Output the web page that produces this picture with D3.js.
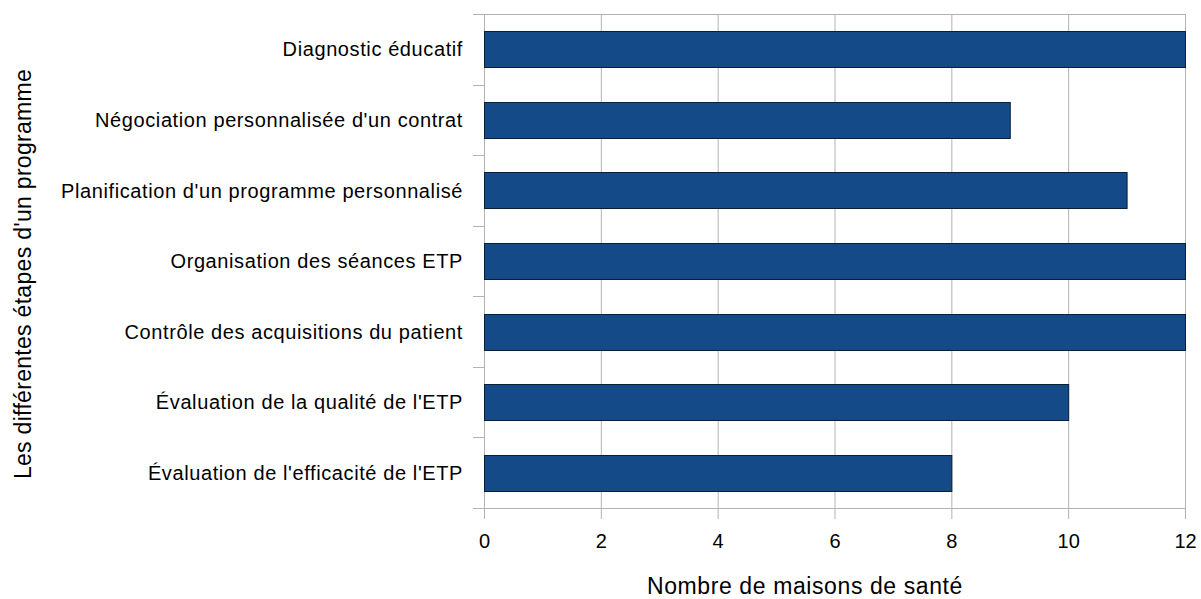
<!DOCTYPE html>
<html>
<head>
<meta charset="utf-8">
<script src="https://cdn.jsdelivr.net/npm/d3@7"></script>
<style>
  body { margin: 0; background: #fff; }
  text { font-family: "Liberation Sans", Arial, sans-serif; fill: #000; }
</style>
</head>
<body>
<svg id="chart" width="1201" height="599"></svg>
<script>
// categories, top to bottom
var etapes = [
	"Diagnostic éducatif",
	"Négociation personnalisée d'un contrat",
	"Planification d'un programme personnalisé",
	"Organisation des séances ETP",
	"Contrôle des acquisitions du patient",
	"Évaluation de la qualité de l'ETP",
	"Évaluation de l'efficacité de l'ETP"
];
var maisons = [12, 9, 11, 12, 12, 10, 8];
var xTicks = [0, 2, 4, 6, 8, 10, 12];

var plotLeft = 484, plotRight = 1185, plotTop = 14, plotBottom = 508;
var gridColor = "#b3b3b3";

var svg = d3.select("#chart");

var x = d3.scaleLinear().domain([0, 12]).range([plotLeft, plotRight]);
var y = d3.scaleBand().domain(etapes).range([plotTop, plotBottom]).paddingInner(0.49).paddingOuter(0.245);

// vertical grid lines
svg.append("g").selectAll("line").data(xTicks).enter().append("line")
	.attr("x1", function (d) { return x(d) + 0.5; })
	.attr("x2", function (d) { return x(d) + 0.5; })
	.attr("y1", plotTop)
	.attr("y2", plotBottom + 11)
	.attr("stroke", gridColor)
	.attr("stroke-width", 1);

// top and bottom lines
[plotTop, plotBottom].forEach(function (yy) {
	svg.append("line")
		.attr("x1", plotLeft - 11).attr("x2", plotRight + 1)
		.attr("y1", yy + 0.5).attr("y2", yy + 0.5)
		.attr("stroke", gridColor);
});

// category boundary ticks
d3.range(1, etapes.length).forEach(function (i) {
	var yy = Math.round(plotTop + i * (plotBottom - plotTop) / etapes.length) + 0.5;
	svg.append("line")
		.attr("x1", plotLeft - 11).attr("x2", plotLeft)
		.attr("y1", yy).attr("y2", yy)
		.attr("stroke", gridColor);
});

// bars
svg.append("g").selectAll("rect").data(etapes).enter().append("rect")
	.attr("x", x(0) + 0.5)
	.attr("y", function (d) { return Math.round(y(d)) + 0.5; })
	.attr("width", function (d, i) { return x(maisons[i]) - x(0); })
	.attr("height", Math.round(y.bandwidth()))
	.attr("fill", "#134a87")
	.attr("stroke", "#0a1e36")
	.attr("stroke-width", 1);

// category labels
svg.append("g").selectAll("text").data(etapes).enter().append("text")
	.attr("x", 463)
	.attr("y", function (d) { return y(d) + y.bandwidth() / 2; })
	.attr("dy", "0.36em")
	.attr("text-anchor", "end")
	.style("font-size", "20px")
	.style("letter-spacing", "0.6px")
	.text(function (d) { return d; });

// x tick labels
svg.append("g").selectAll("text").data(xTicks).enter().append("text")
	.attr("x", function (d) { return x(d) + 0.5; })
	.attr("y", 548)
	.attr("text-anchor", "middle")
	.style("font-size", "20px")
	.text(function (d) { return d; });

// axis titles
svg.append("text")
	.attr("x", 805)
	.attr("y", 594)
	.attr("text-anchor", "middle")
	.style("font-size", "23px")
	.style("letter-spacing", "0.6px")
	.text("Nombre de maisons de santé");

svg.append("text")
	.attr("transform", "translate(31,274) rotate(-90)")
	.attr("text-anchor", "middle")
	.style("font-size", "23px")
	.style("letter-spacing", "0.3px")
	.text("Les différentes étapes d'un programme");
</script>
</body>
</html>
